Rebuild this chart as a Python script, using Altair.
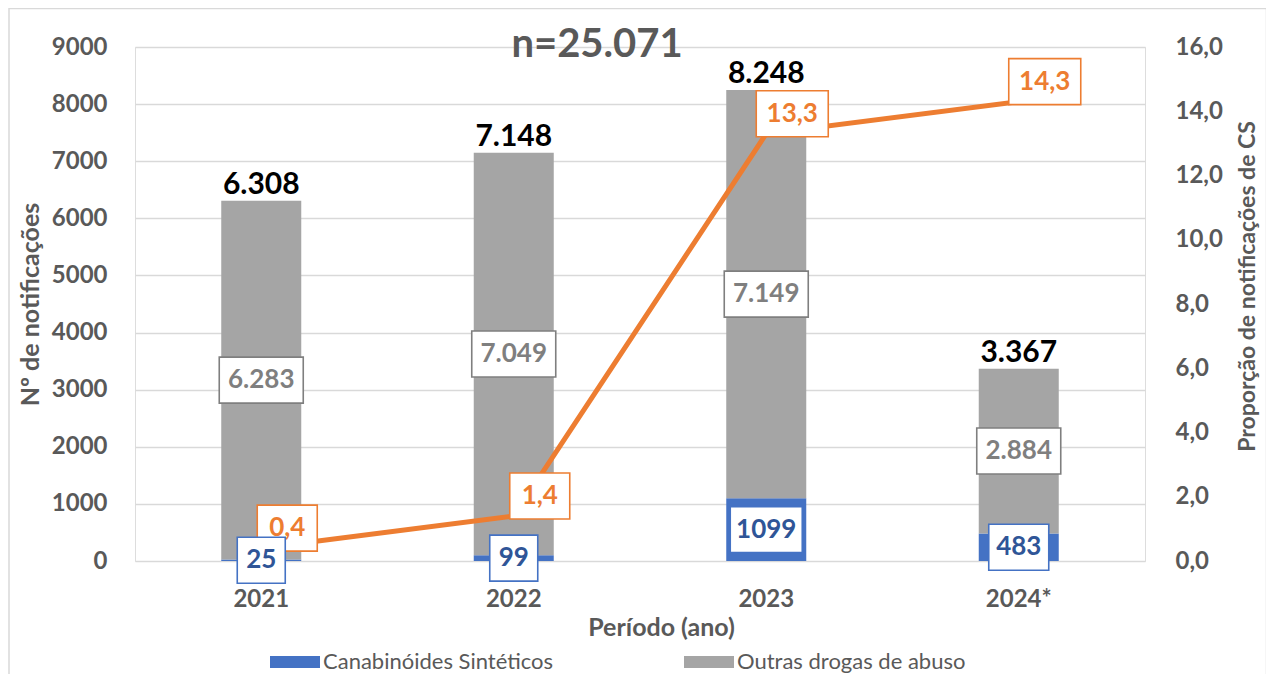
import altair as alt
import pandas as pd

# ---------------- data ----------------
years = ["2021", "2022", "2023", "2024*"]
cs = [25, 99, 1099, 483]                 # Canabinóides Sintéticos
outras = [6283, 7049, 7149, 2884]        # Outras drogas de abuso
totais = [6308, 7148, 8248, 3367]        # total per year
prop = [0.4, 1.4, 13.3, 14.3]            # proporção (%) de CS
series = ["Canabinóides Sintéticos", "Outras drogas de abuso"]
left_ticks = [0, 1000, 2000, 3000, 4000, 5000, 6000, 7000, 8000, 9000]
right_ticks = [0, 2, 4, 6, 8, 10, 12, 14, 16]
title_text = "n=25.071"

BLUE = "#4472C4"
GRAY = "#A5A5A5"
ORANGE = "#ED7D31"
AXIS_GRAY = "#595959"
FONT = "Lato"


def br_int(v):
    return f"{v:,}".replace(",", ".")


def br_dec(v):
    return f"{v:.1f}".replace(".", ",")


def box_w(s):
    return int(12 * len(s) + 24)


bars_df = pd.DataFrame({
    "ano": years * 2,
    "serie": [series[0]] * len(years) + [series[1]] * len(years),
    "y0": [0] * len(years) + cs,
    "y1": cs + totais,
})

gray_df = pd.DataFrame({
    "ano": years,
    "pos": [(a + t) / 2 for a, t in zip(cs, totais)],
    "txt": [br_int(v) for v in outras],
})
gray_df["w"] = gray_df["txt"].map(box_w)

blue_df = pd.DataFrame({
    "ano": years,
    "pos": [a / 2 for a in cs],
    "txt": [str(v) for v in cs],
})
blue_df["w"] = blue_df["txt"].map(box_w)

tot_df = pd.DataFrame({"ano": years, "pos": totais, "txt": [br_int(v) for v in totais]})

prop_df = pd.DataFrame({"ano": years, "pos": prop, "txt": [br_dec(v) for v in prop]})
prop_df["w"] = prop_df["txt"].map(box_w)

# ---------------- scales / axes ----------------
xscale = alt.Scale(domain=years, paddingInner=0, paddingOuter=0)
left_scale = alt.Scale(domain=[0, 9000], nice=False)
right_scale = alt.Scale(domain=[0, 16], nice=False)

x_axis = alt.Axis(
    title="Período (ano)", labelAngle=0, domain=False, ticks=False, grid=False,
    labelPadding=26, labelFont=FONT, labelFontSize=24, labelFontWeight="bold",
    labelColor=AXIS_GRAY, titleFont=FONT, titleFontSize=25, titleFontWeight="bold",
    titleColor=AXIS_GRAY, titleX=526, titleY=66, titleBaseline="middle",
)
X = alt.X("ano:N", sort=years, scale=xscale, axis=x_axis)

left_axis = alt.Axis(
    title="Nº de notificações", values=left_ticks, format="d", domain=False,
    ticks=False, grid=True, gridColor="#D9D9D9", gridWidth=1.6, labelPadding=28,
    labelFont=FONT, labelFontSize=24, labelFontWeight="bold", labelColor=AXIS_GRAY,
    titleFont=FONT, titleFontSize=25, titleFontWeight="bold", titleColor=AXIS_GRAY,
    titleX=-105, titleY=257, titleAngle=270, titleBaseline="middle",
)
right_axis = alt.Axis(
    orient="right", title="Proporção de notificações de CS", values=right_ticks,
    labelExpr="replace(format(datum.value, '.1f'), '.', ',')", domain=False,
    ticks=False, grid=False, labelPadding=30, labelFont=FONT, labelFontSize=24,
    labelFontWeight="bold", labelColor=AXIS_GRAY, titleFont=FONT, titleFontSize=23,
    titleFontWeight="bold", titleColor=AXIS_GRAY, titleX=102, titleY=239,
    titleAngle=270, titleBaseline="middle",
)

# ---------------- layers ----------------
border = alt.Chart(pd.DataFrame({"a": [0]})).mark_rect(
    fill="white", fillOpacity=0, stroke="#D9D9D9", strokeWidth=1.5
).encode(
    x=alt.value(-126), x2=alt.value(1131.5), y=alt.value(-38.5), y2=alt.value(700)
)

bars = alt.Chart(bars_df).mark_bar(size=80).encode(
    x=X,
    y=alt.Y("y0:Q", scale=left_scale, axis=left_axis),
    y2="y1:Q",
    color=alt.Color(
        "serie:N",
        scale=alt.Scale(domain=series, range=[BLUE, GRAY]),
        legend=alt.Legend(
            title=None, orient="none", legendX=135, legendY=590, direction="horizontal",
            symbolType="M-1,-0.24L1,-0.24L1,0.24L-1,0.24Z", symbolSize=2500,
            symbolStrokeWidth=0, labelFont=FONT, labelFontSize=22, labelColor=AXIS_GRAY,
            labelLimit=500, labelOffset=3, columnPadding=130, padding=0,
        ),
    ),
)

line = alt.Chart(prop_df).mark_line(color=ORANGE, strokeWidth=5).encode(
    x=X,
    y=alt.Y("pos:Q", scale=right_scale, axis=right_axis),
)


def box_layers(df, scale, stroke, xo=0, yo=0, h=46):
    out = []
    for w in sorted(df["w"].unique()):
        w = int(w)
        sub = df[df["w"] == w]
        r = round(h / w, 4)
        path = f"M-1,-{r}L1,-{r}L1,{r}L-1,{r}Z"
        out.append(
            alt.Chart(sub).mark_point(
                shape=path, size=w * w, filled=True, fill="white", stroke=stroke,
                strokeWidth=1.6, opacity=1, fillOpacity=1, strokeOpacity=1,
                xOffset=xo, yOffset=yo,
            ).encode(x=X, y=alt.Y("pos:Q", scale=scale, axis=None))
        )
    return out


def text_layer(df, scale, color, size=26, xo=0, yo=0, baseline="middle"):
    return alt.Chart(df).mark_text(
        font=FONT, fontSize=size, fontWeight="bold", color=color,
        baseline=baseline, align="center", xOffset=xo, yOffset=yo,
    ).encode(x=X, y=alt.Y("pos:Q", scale=scale, axis=None), text="txt:N")


OX, OY = 26, -20

layers = [border, bars, line]
layers += box_layers(gray_df, left_scale, "#7F7F7F")
layers.append(text_layer(gray_df, left_scale, "#7F7F7F"))
layers += box_layers(prop_df, right_scale, ORANGE, OX, OY)
layers.append(text_layer(prop_df, right_scale, ORANGE, xo=OX, yo=OY))
layers += box_layers(blue_df, left_scale, BLUE)
layers.append(text_layer(blue_df, left_scale, "#2F5597"))
layers.append(text_layer(tot_df, left_scale, "black", size=30, yo=-7, baseline="alphabetic"))

chart = alt.layer(*layers).resolve_scale(y="independent").properties(
    width=1010,
    height=514,
    autosize=alt.AutoSizeParams(type="none"),
    padding={"left": 127, "top": 39, "right": 121, "bottom": 113},
    title=alt.Title(
        title_text, font=FONT, fontSize=40, fontWeight="bold", color=AXIS_GRAY,
        anchor="middle", frame="group", dx=-43, dy=42, baseline="alphabetic", offset=-47,
    ),
).configure_view(stroke=None).configure(background="white")

chart.save("out.html", embed_options={"renderer": "svg", "actions": False})
